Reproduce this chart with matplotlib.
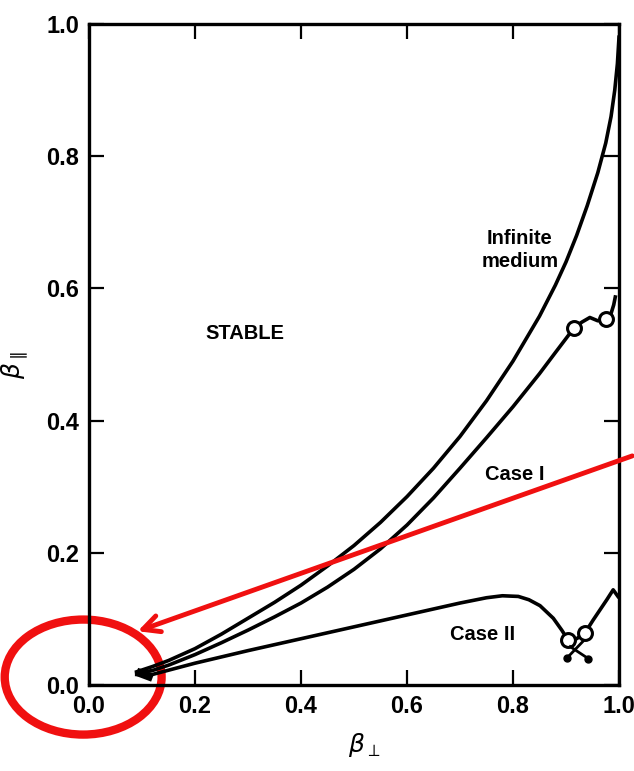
import matplotlib.pyplot as plt
from matplotlib.patches import Ellipse
import numpy as np

# boundary curves
inf_x = [0.09, 0.12, 0.15, 0.2, 0.25, 0.3, 0.35, 0.4, 0.45, 0.5, 0.55, 0.6, 0.65,
         0.7, 0.75, 0.8, 0.85, 0.88, 0.9, 0.92, 0.94, 0.96, 0.975, 0.985, 0.992,
         0.997, 1.0]
inf_y = [0.02, 0.028, 0.037, 0.055, 0.077, 0.101, 0.125, 0.151, 0.18, 0.211, 0.246,
         0.285, 0.328, 0.376, 0.43, 0.49, 0.558, 0.605, 0.64, 0.68, 0.725, 0.775,
         0.82, 0.86, 0.90, 0.94, 0.98]

case1_x = [0.09, 0.12, 0.15, 0.2, 0.25, 0.3, 0.35, 0.4, 0.45, 0.5, 0.55, 0.6, 0.65,
           0.7, 0.75, 0.8, 0.85, 0.88, 0.915, 0.93, 0.945, 0.96, 0.975, 0.985,
           0.99, 0.993]
case1_y = [0.018, 0.022, 0.03, 0.046, 0.064, 0.083, 0.103, 0.124, 0.148, 0.175,
           0.206, 0.242, 0.283, 0.328, 0.374, 0.421, 0.471, 0.503, 0.54, 0.549,
           0.556, 0.551, 0.553, 0.562, 0.575, 0.587]

case2_x = [0.09, 0.12, 0.2, 0.3, 0.4, 0.5, 0.6, 0.7, 0.75, 0.78, 0.81, 0.83, 0.851,
           0.876, 0.892, 0.904, 0.92, 0.936, 0.951, 0.977, 0.989, 0.998]
case2_y = [0.016, 0.016, 0.033, 0.052, 0.07, 0.088, 0.106, 0.124, 0.132, 0.135,
           0.134, 0.129, 0.12, 0.101, 0.083, 0.068, 0.07, 0.079, 0.098, 0.129,
           0.144, 0.134]

# small open circles on the curves
circ1_x = [0.915, 0.975]
circ1_y = [0.54, 0.553]
circ2_x = [0.904, 0.936]
circ2_y = [0.068, 0.079]

xticks = [0.0, 0.2, 0.4, 0.6, 0.8, 1.0]
yticks = [0.0, 0.2, 0.4, 0.6, 0.8, 1.0]

plt.rcParams['font.family'] = ['Liberation Sans Narrow', 'Liberation Sans', 'DejaVu Sans']
plt.rcParams['mathtext.fontset'] = 'dejavusans'

fig = plt.figure(figsize=(6.34, 7.71), dpi=100)
ax = fig.add_axes([89 / 634, 86 / 771, 530 / 634, 661 / 771])

lw = 2.6
ax.plot(inf_x, inf_y, '-k', lw=lw, solid_joinstyle='round')
ax.plot(case1_x, case1_y, '-k', lw=lw, solid_joinstyle='round')
ax.plot(case2_x, case2_y, '-k', lw=lw, solid_joinstyle='round')
# thick blob where the curves start
ax.plot([0.09, 0.12], [0.02, 0.011], '-k', lw=6, solid_capstyle='butt')

ax.plot(circ1_x, circ1_y, 'o', ms=10, mfc='white', mec='k', mew=2.2)
ax.plot(circ2_x, circ2_y, 'o', ms=10, mfc='white', mec='k', mew=2.2)
# crossed marks under the Case II circles
ax.plot([0.908, 0.942], [0.058, 0.040], '-k', lw=2)
ax.plot([0.932, 0.902], [0.066, 0.041], '-k', lw=2)
ax.plot([0.902, 0.942], [0.041, 0.040], 'ok', ms=5, ls='none')

ax.set_xlim(0, 1)
ax.set_ylim(0, 1)
ax.set_xticks(xticks)
ax.set_yticks(yticks)
ax.set_xticklabels(['%.1f' % v for v in xticks])
ax.set_yticklabels(['%.1f' % v for v in yticks])
ax.tick_params(direction='in', length=11, width=1.6, top=True, right=True,
               labelsize=17, pad=7)
for lab in ax.get_xticklabels() + ax.get_yticklabels():
    lab.set_fontweight('bold')
for s in ax.spines.values():
    s.set_linewidth(2.4)

ax.set_xlabel(r'$\beta_{\perp}$', fontsize=18)
ax.set_ylabel(r'$\beta_{\parallel}$', fontsize=18)
ax.xaxis.set_label_coords(0.52, -0.07)
ax.yaxis.set_label_coords(-0.112, 0.484)

tf = ['Liberation Sans', 'DejaVu Sans']
ax.text(0.294, 0.532, 'STABLE', fontsize=14.5, ha='center', va='center',
        family=tf, weight='bold')
ax.text(0.813, 0.658, 'Infinite\nmedium', fontsize=14.5, ha='center', va='center',
        family=tf, weight='bold', linespacing=1.3)
ax.text(0.804, 0.318, 'Case I', fontsize=14.5, ha='center', va='center',
        family=tf, weight='bold')
ax.text(0.743, 0.076, 'Case II', fontsize=14.5, ha='center', va='center',
        family=tf, weight='bold')

# red markup drawn over the scan
red = '#f01010'
ax.add_patch(Ellipse((-0.011, 0.012), 0.296, 0.174, fill=False, ec=red, lw=6,
                     clip_on=False))
ax.annotate('', xy=(0.087, 0.080), xytext=(1.03, 0.348),
            arrowprops=dict(arrowstyle='->', color=red, lw=3.5,
                            mutation_scale=30),
            annotation_clip=False)

fig.savefig('out.png', dpi=100)
